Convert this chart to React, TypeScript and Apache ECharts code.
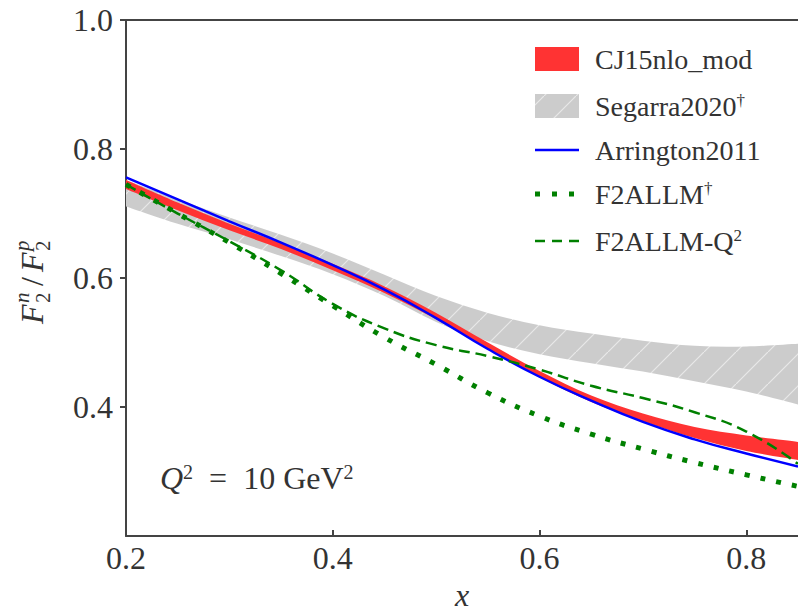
import React, { useEffect, useRef } from 'react';
import * as echarts from 'echarts';

// ---- data ----
const xGrid = [0.2, 0.25, 0.3, 0.35, 0.4, 0.45, 0.5, 0.55, 0.6, 0.65, 0.7, 0.75, 0.8, 0.85];
const cjLower = [0.738, 0.705, 0.674, 0.645, 0.612, 0.577, 0.536, 0.49, 0.446, 0.408, 0.378, 0.352, 0.332, 0.318];
const cjUpper = [0.752, 0.717, 0.684, 0.654, 0.622, 0.587, 0.546, 0.5, 0.456, 0.418, 0.39, 0.369, 0.356, 0.346];
const segLower = [0.711, 0.684, 0.66, 0.634, 0.606, 0.572, 0.532, 0.502, 0.482, 0.468, 0.455, 0.44, 0.424, 0.404];
const segUpper = [0.752, 0.722, 0.694, 0.667, 0.638, 0.605, 0.572, 0.546, 0.527, 0.514, 0.503, 0.495, 0.494, 0.498];
const arrington2011 = [0.756, 0.722, 0.688, 0.655, 0.62, 0.582, 0.538, 0.49, 0.447, 0.41, 0.377, 0.35, 0.328, 0.308];
const f2allm = [0.745, 0.7, 0.655, 0.607, 0.557, 0.508, 0.466, 0.422, 0.386, 0.358, 0.335, 0.314, 0.295, 0.277];
const f2allmQ2 = [0.745, 0.7, 0.657, 0.612, 0.56, 0.522, 0.496, 0.479, 0.458, 0.433, 0.414, 0.392, 0.362, 0.312];
const xTicks = [0.2, 0.4, 0.6, 0.8];
const yTicks = [0.2, 0.4, 0.6, 0.8, 1.0];
const legendNames = ['CJ15nlo_mod', 'Segarra2020', 'Arrington2011', 'F2ALLM', 'F2ALLM-Q'];

const FONT = "'Liberation Serif', 'DejaVu Serif', serif";
const TXT = '#333333';
const RED = '#ff3333';
const BLUE = '#0000ff';
const GREEN = '#008000';

const hatchSvg =
  "<svg xmlns='http://www.w3.org/2000/svg' width='32' height='32'>" +
  "<rect width='32' height='32' fill='#cccccc'/>" +
  "<path d='M0 32 L32 0' stroke='#ffffff' stroke-opacity='0.55' stroke-width='1.2'/></svg>";
const hatchUrl = 'data:image/svg+xml;charset=utf-8,' + encodeURIComponent(hatchSvg);
const hatch = () => ({ image: hatchUrl, repeat: 'repeat', imageWidth: 32, imageHeight: 32 });

// smooth path (Catmull-Rom -> cubic Bezier) through pixel points
function curvePath(pts: number[][], moveFirst: boolean): string {
  let d = (moveFirst ? 'M' : 'L') + pts[0][0].toFixed(2) + ' ' + pts[0][1].toFixed(2);
  for (let i = 0; i < pts.length - 1; i++) {
    const p0 = pts[Math.max(0, i - 1)];
    const p1 = pts[i];
    const p2 = pts[i + 1];
    const p3 = pts[Math.min(pts.length - 1, i + 2)];
    const c1x = p1[0] + (p2[0] - p0[0]) / 6;
    const c1y = p1[1] + (p2[1] - p0[1]) / 6;
    const c2x = p2[0] - (p3[0] - p1[0]) / 6;
    const c2y = p2[1] - (p3[1] - p1[1]) / 6;
    d += ` C${c1x.toFixed(2)} ${c1y.toFixed(2)} ${c2x.toFixed(2)} ${c2y.toFixed(2)} ${p2[0].toFixed(2)} ${p2[1].toFixed(2)}`;
  }
  return d;
}

function bandSeries(name: string, lo: number[], hi: number[], fill: any, z: number) {
  return {
    type: 'custom',
    name,
    z,
    silent: true,
    data: [[xGrid[0], lo[0]]],
    renderItem: (_params: any, api: any) => {
      const up = xGrid.map((x, i) => api.coord([x, hi[i]]));
      const dn = xGrid.map((x, i) => api.coord([x, lo[i]])).reverse();
      const d = curvePath(up, true) + ' ' + curvePath(dn, false) + ' Z';
      return { type: 'path', shape: { pathData: d }, style: { fill, stroke: 'none' } };
    },
  };
}

const pairs = (ys: number[]) => xGrid.map((x, i) => [x, ys[i]]);

export default function App() {
  const ref = useRef<HTMLDivElement>(null);
  useEffect(() => {
    if (!ref.current) return;
    const chart = echarts.init(ref.current, undefined, { renderer: 'svg' });
    const rowsY = [59, 106, 150, 194, 241];
    const lx = 535;
    const tx = 595;
    const legendText = (i: number, rich?: boolean) => ({
      type: 'text',
      x: tx,
      y: rowsY[i],
      style: rich
        ? {
            text: i === 4 ? `{a|${legendNames[i]}}{s|2}` : `{a|${legendNames[i]}}{s|†}`,
            rich: {
              a: { fontSize: 28, fontFamily: FONT, fill: TXT },
              s: { fontSize: 17, fontFamily: FONT, fill: TXT, verticalAlign: 'top' },
            },
            verticalAlign: 'middle',
          }
        : { text: legendNames[i], fontSize: 28, fontFamily: FONT, fill: TXT, verticalAlign: 'middle' },
    });
    const smooth = 0.5;
    const option: any = {
      animation: false,
      textStyle: { fontFamily: FONT },
      grid: { left: 126, top: 20, width: 676, height: 520 },
      xAxis: [
        {
          type: 'value',
          min: 0.2,
          max: 0.85,
          interval: 0.2,
          name: 'x',
          nameLocation: 'middle',
          nameGap: 42,
          nameTextStyle: { fontSize: 32, fontStyle: 'italic', fontFamily: FONT, color: TXT },
          axisLine: { show: true, lineStyle: { color: '#444', width: 2 } },
          axisTick: { show: true, inside: true, length: 6, lineStyle: { color: '#444', width: 2 } },
          axisLabel: {
            show: true,
            margin: 6,
            fontSize: 32,
            fontFamily: FONT,
            color: TXT,
            showMaxLabel: false,
            formatter: (v: number) => (xTicks.some((t) => Math.abs(t - v) < 1e-6) ? v.toFixed(1) : ''),
          },
          splitLine: { show: false },
        },
        {
          type: 'value',
          min: 0.2,
          max: 0.85,
          position: 'top',
          axisLine: { show: true, onZero: false, lineStyle: { color: '#444', width: 2 } },
          axisTick: { show: false },
          axisLabel: { show: false },
          splitLine: { show: false },
        },
      ],
      yAxis: {
        type: 'value',
        min: 0.2,
        max: 1.0,
        interval: 0.2,
        axisLine: { show: true, lineStyle: { color: '#444', width: 2 } },
        axisTick: { show: true, inside: false, length: 6, lineStyle: { color: '#444', width: 2 } },
        axisLabel: {
          show: true,
          margin: 13,
          fontSize: 32,
          fontFamily: FONT,
          color: TXT,
          showMinLabel: false,
          formatter: (v: number) => (yTicks.some((t) => Math.abs(t - v) < 1e-6) ? v.toFixed(1) : ''),
        },
        splitLine: { show: false },
      },
      series: [
        bandSeries(legendNames[1], segLower, segUpper, hatch(), 1),
        bandSeries(legendNames[0], cjLower, cjUpper, RED, 2),
        {
          type: 'line',
          name: legendNames[2],
          data: pairs(arrington2011),
          symbol: 'none',
          smooth,
          lineStyle: { color: BLUE, width: 2.5 },
          z: 3,
        },
        {
          type: 'line',
          name: legendNames[3],
          data: pairs(f2allm),
          symbol: 'none',
          smooth,
          lineStyle: { color: GREEN, width: 5, type: [5, 11], cap: 'butt' },
          z: 4,
        },
        {
          type: 'line',
          name: legendNames[4],
          data: pairs(f2allmQ2),
          symbol: 'none',
          smooth,
          lineStyle: { color: GREEN, width: 2.5, type: [11, 6], cap: 'butt' },
          z: 5,
        },
      ],
      graphic: [
        // legend
        { type: 'rect', shape: { x: lx, y: rowsY[0] - 12, width: 44, height: 24 }, style: { fill: RED } },
        { type: 'rect', shape: { x: lx, y: rowsY[1] - 12, width: 44, height: 24 }, style: { fill: hatch() } },
        { type: 'line', shape: { x1: lx, y1: rowsY[2], x2: lx + 44, y2: rowsY[2] }, style: { stroke: BLUE, lineWidth: 2.5 } },
        { type: 'line', shape: { x1: lx, y1: rowsY[3], x2: lx + 44, y2: rowsY[3] }, style: { stroke: GREEN, lineWidth: 5, lineDash: [5, 12] } },
        { type: 'line', shape: { x1: lx, y1: rowsY[4], x2: lx + 44, y2: rowsY[4] }, style: { stroke: GREEN, lineWidth: 2.5, lineDash: [10, 7] } },
        legendText(0),
        legendText(1, true),
        legendText(2),
        legendText(3, true),
        legendText(4, true),
        // annotation
        {
          type: 'text',
          x: 160,
          y: 478,
          style: {
            text: '{q|Q}{s|2}{r|  =  10 GeV}{s|2}',
            rich: {
              q: { fontSize: 32, fontStyle: 'italic', fontFamily: FONT, fill: TXT },
              r: { fontSize: 32, fontFamily: FONT, fill: TXT },
              s: { fontSize: 20, fontFamily: FONT, fill: TXT, verticalAlign: 'top' },
            },
            verticalAlign: 'middle',
          },
        },
        // y-axis title F2^n / F2^p
        {
          type: 'group',
          x: 32,
          y: 280,
          rotation: Math.PI / 2,
          children: [
            { type: 'text', x: -44, y: 0, style: { text: 'F', fontSize: 32, fontStyle: 'italic', fontFamily: FONT, fill: TXT, verticalAlign: 'middle' } },
            { type: 'text', x: -23, y: -10, style: { text: 'n', fontSize: 21, fontStyle: 'italic', fontFamily: FONT, fill: TXT, verticalAlign: 'middle' } },
            { type: 'text', x: -23, y: 11, style: { text: '2', fontSize: 21, fontFamily: FONT, fill: TXT, verticalAlign: 'middle' } },
            { type: 'text', x: -6, y: 0, style: { text: '/', fontSize: 32, fontFamily: FONT, fill: TXT, verticalAlign: 'middle' } },
            { type: 'text', x: 8, y: 0, style: { text: 'F', fontSize: 32, fontStyle: 'italic', fontFamily: FONT, fill: TXT, verticalAlign: 'middle' } },
            { type: 'text', x: 29, y: -10, style: { text: 'p', fontSize: 21, fontStyle: 'italic', fontFamily: FONT, fill: TXT, verticalAlign: 'middle' } },
            { type: 'text', x: 29, y: 11, style: { text: '2', fontSize: 21, fontFamily: FONT, fill: TXT, verticalAlign: 'middle' } },
          ],
        },
      ],
    };
    chart.setOption(option);
    return () => chart.dispose();
  }, []);
  return (
    <div
      ref={ref}
      style={{ position: 'fixed', left: 0, top: 0, width: 798, height: 616, background: '#ffffff' }}
    />
  );
}
